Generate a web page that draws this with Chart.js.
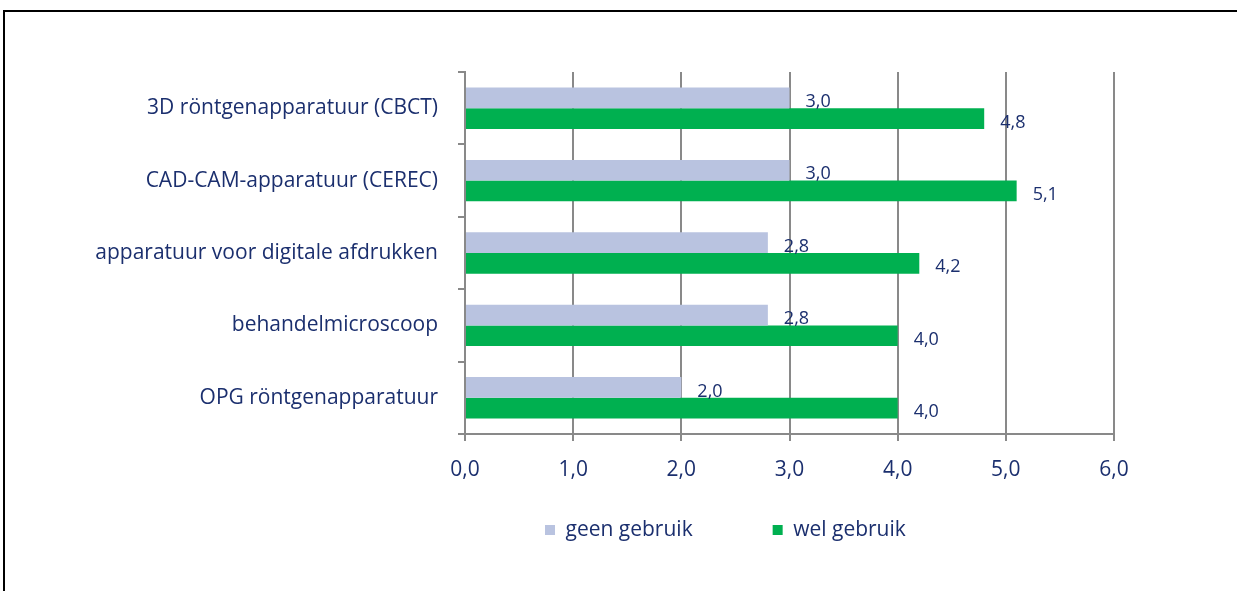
<!DOCTYPE html>
<html>
<head>
<meta charset="utf-8">
<script src="https://cdn.jsdelivr.net/npm/chart.js@4.4.1/dist/chart.umd.min.js"></script>
<style>
  body { margin: 0; background: #fff; }
  #wrap { position: relative; width: 1237px; height: 591px; overflow: hidden; }
  #frame { position: absolute; left: 3px; top: 10px; width: 1300px; height: 700px;
           border-top: 2px solid #000; border-left: 2px solid #000; pointer-events: none; }
  canvas { position: absolute; left: 0; top: 0; }
</style>
</head>
<body>
<div id="wrap">
  <canvas id="chart" width="1237" height="591"></canvas>
  <div id="frame"></div>
</div>
<script>
var categories = [
    "3D röntgenapparatuur (CBCT)",
    "CAD-CAM-apparatuur (CEREC)",
    "apparatuur voor digitale afdrukken",
    "behandelmicroscoop",
    "OPG röntgenapparatuur"
];
var geenGebruik = [3.0, 3.0, 2.8, 2.8, 2.0];
var welGebruik = [4.8, 5.1, 4.2, 4.0, 4.0];
var seriesNames = ["geen gebruik", "wel gebruik"];

var navy = "#1B2F6E";
var gridGrey = "#898989";

function comma(v) {
    return Number(v).toFixed(1).replace(".", ",");
}

Chart.defaults.font.family = "'Open Sans', sans-serif";
Chart.defaults.color = navy;

// value labels right of each bar
var barLabels = {
    id: "barLabels",
    afterDatasetsDraw: function(chart) {
        var ctx = chart.ctx;
        ctx.save();
        ctx.font = "18px 'Open Sans', sans-serif";
        ctx.fillStyle = navy;
        ctx.textAlign = "left";
        ctx.textBaseline = "middle";
        chart.data.datasets.forEach(function(ds, i) {
            chart.getDatasetMeta(i).data.forEach(function(bar, j) {
                ctx.fillText(comma(ds.data[j]), bar.x + 16, bar.y + 4);
            });
        });
        ctx.restore();
    }
};

// the x axis box is kept short so the legend sits close to it;
// give the tick labels room again so they are not clipped
var axisRoom = {
    id: "axisRoom",
    afterLayout: function(chart) {
        var x = chart.scales.x;
        x.bottom = x.top + 60;
    }
};

new Chart(document.getElementById("chart").getContext("2d"), {
    type: "bar",
    data: {
        labels: categories,
        datasets: [{
            label: seriesNames[0],
            data: geenGebruik,
            backgroundColor: "#B9C3E0",
            categoryPercentage: 0.572,
            barPercentage: 1.0
        }, {
            label: seriesNames[1],
            data: welGebruik,
            backgroundColor: "#00B050",
            categoryPercentage: 0.572,
            barPercentage: 1.0
        }]
    },
    options: {
        indexAxis: "y",
        responsive: false,
        animation: false,
        layout: {
            padding: { top: 72, left: 0, right: 123, bottom: 40.5 }
        },
        scales: {
            x: {
                min: 0,
                max: 6,
                afterFit: function(s) { s.height = 5.5; },
                grid: { color: gridGrey, lineWidth: 2, drawTicks: true, tickLength: 7 },
                border: { color: gridGrey, width: 2 },
                ticks: {
                    stepSize: 1,
                    padding: 16,
                    color: navy,
                    font: { size: 21 },
                    callback: function(v) { return comma(v); }
                }
            },
            y: {
                afterFit: function(s) { s.width = 465; },
                grid: { drawOnChartArea: false, color: gridGrey, lineWidth: 2, tickLength: 7 },
                border: { color: gridGrey, width: 2 },
                ticks: { padding: 20, color: navy, font: { size: 21 } }
            }
        },
        plugins: {
            legend: {
                position: "bottom",
                fullSize: false,
                align: "start",
                labels: {
                    boxWidth: 10,
                    boxHeight: 10,
                    padding: 80,
                    color: navy,
                    font: { size: 21 }
                }
            },
            tooltip: { enabled: false }
        }
    },
    plugins: [barLabels, axisRoom]
});
</script>
</body>
</html>
